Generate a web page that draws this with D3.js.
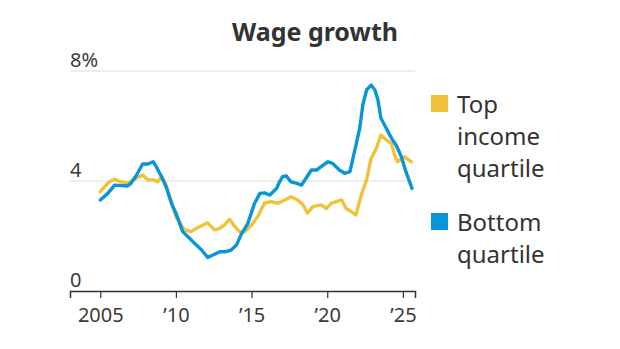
<!DOCTYPE html>
<html>
<head>
<meta charset="utf-8">
<script src="https://cdn.jsdelivr.net/npm/d3@7"></script>
<style>
  body { margin: 0; background: #fff; }
  svg { display: block; font-family: "Noto Sans", sans-serif; }
</style>
</head>
<body>
<svg width="620" height="349"></svg>
<script>
// Bottom income quartile (blue)
const bottomYears = [2005.0, 2005.5, 2005.95, 2006.8, 2007.05, 2007.4, 2007.8, 2008.15, 2008.5, 2008.7,
  2009.05, 2009.35, 2009.7, 2010.0, 2010.45, 2010.9, 2011.35, 2011.7, 2012.1, 2012.45,
  2012.9, 2013.3, 2013.65, 2014.0, 2014.3, 2014.75, 2015.2, 2015.55, 2015.85, 2016.2,
  2016.65, 2016.85, 2017.05, 2017.3, 2017.6, 2017.95, 2018.3, 2018.6, 2018.95, 2019.3,
  2019.6, 2020.05, 2020.35, 2020.8, 2021.15, 2021.5, 2021.8, 2022.15, 2022.35, 2022.6,
  2022.9, 2023.15, 2023.35, 2023.55, 2023.9, 2024.25, 2024.55, 2024.9, 2025.2, 2025.6];
const bottomValues = [3.31, 3.55, 3.85, 3.82, 3.93, 4.22, 4.62, 4.62, 4.7, 4.52,
  4.16, 3.79, 3.19, 2.83, 2.16, 1.92, 1.67, 1.49, 1.22, 1.31,
  1.43, 1.43, 1.49, 1.67, 2.04, 2.46, 3.19, 3.55, 3.57, 3.49,
  3.73, 3.97, 4.16, 4.18, 3.97, 3.92, 3.85, 4.1, 4.4, 4.4,
  4.52, 4.7, 4.64, 4.4, 4.28, 4.34, 5.07, 5.92, 6.76, 7.31,
  7.49, 7.31, 6.95, 6.28, 5.92, 5.55, 5.31, 4.88, 4.34, 3.73];

// Top income quartile (yellow)
const topYears = [2005.0, 2005.6, 2005.95, 2006.4, 2006.8, 2007.25, 2007.8, 2008.15, 2008.5, 2008.8,
  2009.05, 2009.35, 2009.7, 2010.0, 2010.55, 2011.0, 2011.35, 2011.8, 2012.1, 2012.55,
  2012.9, 2013.2, 2013.55, 2013.9, 2014.2, 2014.55, 2015.0, 2015.4, 2015.85, 2016.3,
  2016.75, 2017.2, 2017.6, 2018.05, 2018.4, 2018.7, 2019.05, 2019.6, 2019.95, 2020.25,
  2020.6, 2020.95, 2021.25, 2021.6, 2021.9, 2022.25, 2022.6, 2022.9, 2023.25, 2023.55,
  2023.9, 2024.25, 2024.45, 2024.65, 2025.1, 2025.55];
const topValues = [3.61, 3.97, 4.06, 3.97, 3.92, 4.06, 4.22, 4.04, 4.04, 3.97,
  4.16, 3.85, 3.25, 2.7, 2.22, 2.16, 2.28, 2.4, 2.48, 2.22,
  2.28, 2.4, 2.61, 2.34, 2.16, 2.16, 2.4, 2.7, 3.19, 3.25,
  3.19, 3.31, 3.43, 3.31, 3.13, 2.83, 3.07, 3.13, 3.0, 3.19,
  3.25, 3.31, 3.0, 2.88, 2.76, 3.49, 4.04, 4.82, 5.19, 5.67,
  5.49, 5.37, 4.95, 4.7, 4.88, 4.7];

const tickYears = [2005, 2010, 2015, 2020, 2025];
const tickYearLabels = ["2005", "\u201910", "\u201915", "\u201920", "\u201925"];
const yTicks = [0, 4, 8];
const yTickLabels = ["0", "4", "8%"];

const series = [
  { name: ["Top", "income", "quartile"], years: topYears, values: topValues, color: "#efc23a" },
  { name: ["Bottom", "quartile"], years: bottomYears, values: bottomValues, color: "#0a95d8" }
];

const svg = d3.select("svg");
const plotLeft = 70, plotRight = 415, plotTop = 71, plotBottom = 291;

const x = d3.scaleLinear().domain([2003, 2025.8]).range([plotLeft, plotRight]);
const y = d3.scaleLinear().domain([0, 8]).range([plotBottom, plotTop]);

// title
svg.append("text")
  .attr("x", 315).attr("y", 41)
  .attr("text-anchor", "middle")
  .attr("font-size", 25).attr("font-weight", 700)
  .attr("fill", "#333")
  .text("Wage growth");

// gridlines + y labels
yTicks.forEach((t, i) => {
  if (t > 0) {
    svg.append("line")
      .attr("x1", plotLeft).attr("x2", plotRight)
      .attr("y1", y(t)).attr("y2", y(t))
      .attr("stroke", "#dcdcdc").attr("stroke-width", 1);
  }
  svg.append("text")
    .attr("x", plotLeft).attr("y", y(t) - 4)
    .attr("font-size", 20).attr("fill", "#3a3a3a")
    .text(yTickLabels[i]);
});

// lines
const line = d3.line()
  .x(d => x(d[0]))
  .y(d => y(d[1]));

series.forEach(s => {
  svg.append("path")
    .datum(d3.zip(s.years, s.values))
    .attr("d", line)
    .attr("fill", "none")
    .attr("stroke", s.color)
    .attr("stroke-width", 3.4)
    .attr("stroke-linejoin", "round")
    .attr("stroke-linecap", "round");
});

// x axis
const xAxis = d3.axisBottom(x)
  .tickValues(tickYears)
  .tickFormat((d, i) => tickYearLabels[i])
  .tickSizeOuter(0)
  .tickSize(7)
  .tickPadding(10);

const gx = svg.append("g")
  .attr("transform", `translate(0,${plotBottom})`)
  .call(xAxis);
gx.select(".domain").attr("stroke", "#333").attr("stroke-width", 1.5);
gx.selectAll(".tick line").attr("stroke", "#333").attr("stroke-width", 1.2);
gx.selectAll(".tick text")
  .attr("font-family", "Noto Sans, sans-serif")
  .attr("font-size", 20).attr("fill", "#3a3a3a");

// legend
const legendY = [95, 213];
series.forEach((s, i) => {
  const g = svg.append("g").attr("transform", `translate(431,${legendY[i]})`);
  g.append("rect")
    .attr("width", 17).attr("height", 17)
    .attr("fill", s.color);
  s.name.forEach((w, j) => {
    g.append("text")
      .attr("x", 26).attr("y", 18 + j * 32)
      .attr("font-size", 24).attr("fill", "#333")
      .text(w);
  });
});
</script>
</body>
</html>
